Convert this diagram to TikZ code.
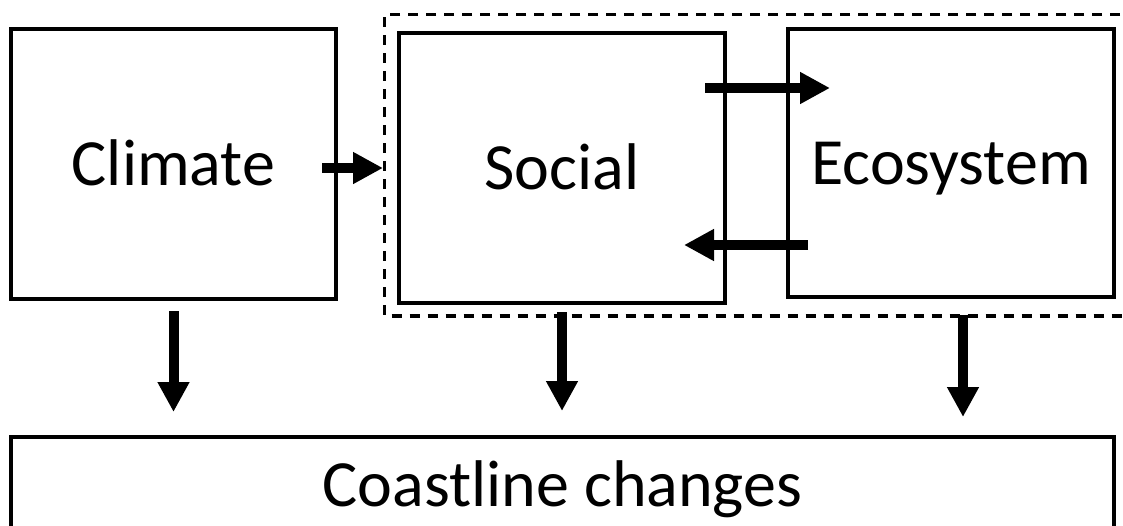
\documentclass[tikz,border=0pt]{standalone}
\usepackage{fontspec}
\setmainfont{Carlito}
\usetikzlibrary{arrows.meta,calc}
\begin{document}
\begin{tikzpicture}[x=1pt,y=-1pt,
  box/.style={draw=black,line width=4pt,fill=none,inner sep=0pt,
    font=\fontsize{66}{79}\selectfont,text height=42.5pt,text depth=0pt},
  dashbox/.style={draw=black,line width=3.5pt,dash pattern=on 10pt off 8pt},
  bigarrow/.style={draw=black,line width=10pt,-{Triangle[width=30pt,length=30pt]}}]
\useasboundingbox (0,0) rectangle (1123,525);
\clip (0,0) rectangle (1123,525);
\node[box,minimum width=325pt,minimum height=270pt] (climate) at (173.5,164) {Climate};
\node[box,minimum width=326pt,minimum height=270pt] (social) at (562,168) {Social};
\node[box,minimum width=326pt,minimum height=268pt] (eco) at (951,163) {Ecosystem};
\node[box,minimum width=1103pt,minimum height=96pt] (coast) at (562.5,485) {Coastline changes};
\coordinate (dtr) at ($(eco.north east)+(40,-12.5)$);
\coordinate (dbl) at ($(social.south west)+(-12.5,11)$);
\draw[dashbox] (dtr) -| (dbl) -- (dbl -| dtr);
\draw[bigarrow] ($(climate.east)+(-16,4)$) -- ($(social.west)+(-14,0)$);
\draw[bigarrow] ($(social.east)+(-22,-80)$) -- ($(eco.west)+(44,-75)$);
\draw[bigarrow] ($(eco.west)+(22,82)$) -- ($(social.east)+(-43,77)$);
\draw[bigarrow] ($(climate.south)+(0,10)$) -- ($(climate.south |- coast.north)+(0,-23)$);
\draw[bigarrow] ($(social.south)+(0,7)$) -- ($(social.south |- coast.north)+(0,-24)$);
\draw[bigarrow] ($(eco.south)+(12,16)$) -- ($(eco.south |- coast.north)+(12,-18)$);
\end{tikzpicture}
\end{document}
